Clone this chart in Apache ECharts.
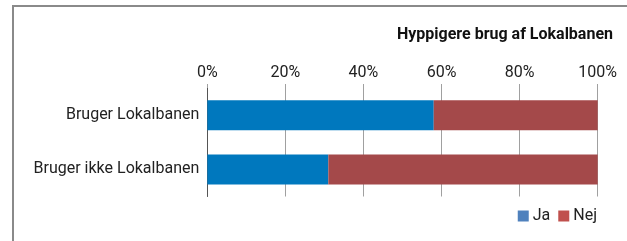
<!DOCTYPE html>
<html>
<head>
<meta charset="utf-8">
<script src="https://cdn.jsdelivr.net/npm/echarts@6/dist/echarts.min.js"></script>
<style>
html,body{margin:0;padding:0;background:#fff;}
#chart{width:627px;height:241px;}
</style>
</head>
<body>
<div id="chart"></div>
<script>
const categories = ['Bruger Lokalbanen', 'Bruger ikke Lokalbanen'];
const jaValues = [58, 31];
const nejValues = [42, 69];
const tickValues = [0, 20, 40, 60, 80, 100];
const seriesNames = ['Ja', 'Nej'];

const chart = echarts.init(document.getElementById('chart'), null, {renderer: 'canvas'});
const FONT = 'Roboto';
chart.setOption({
  animation: false,
  backgroundColor: '#fff',
  title: {
    text: 'Hyppigere brug af Lokalbanen',
    right: 9,
    top: 22,
    textStyle: {fontFamily: FONT, fontSize: 16, fontWeight: 'bold', color: '#111'}
  },
  graphic: [{
    type: 'rect',
    shape: {x: 13, y: 6, width: 800, height: 400},
    style: {fill: 'none', stroke: '#8a8a8a', lineWidth: 2},
    silent: true
  }],
  legend: {
    data: [
      {name: seriesNames[0], itemStyle: {color: '#4F81BD'}},
      {name: seriesNames[1], itemStyle: {color: '#C0504D'}}
    ],
    right: 25,
    top: 203,
    itemWidth: 11,
    itemHeight: 11,
    itemGap: 8,
    icon: 'rect',
    textStyle: {fontFamily: FONT, fontSize: 16, color: '#222', padding: [0,0,0,-1]}
  },
  grid: {left: 207.3, right: 627 - 597.7, top: 88, bottom: 241 - 196.5, containLabel: false},
  xAxis: {
    type: 'value',
    position: 'top',
    min: 0, max: 100, interval: 20,
    axisLine: {show: false},
    axisTick: {show: true, length: 4, lineStyle: {color: '#a0a0a0', width: 1}},
    splitLine: {show: true, lineStyle: {color: '#a0a0a0', width: 1}},
    axisLabel: {formatter: '{value}%', fontFamily: FONT, fontSize: 16, color: '#222', margin: 7}
  },
  yAxis: {
    type: 'category',
    inverse: true,
    data: categories,
    axisLine: {show: true, lineStyle: {color: '#555', width: 1}},
    axisTick: {show: false},
    axisLabel: {fontFamily: FONT, fontSize: 16, color: '#222', margin: 8}
  },
  series: [
    {name: seriesNames[0], type: 'bar', stack: 'a', barWidth: 30, data: jaValues,
     itemStyle: {color: '#0078BE'}},
    {name: seriesNames[1], type: 'bar', stack: 'a', barWidth: 30, data: nejValues,
     itemStyle: {color: '#A4494A'}}
  ]
});
</script>
</body>
</html>
